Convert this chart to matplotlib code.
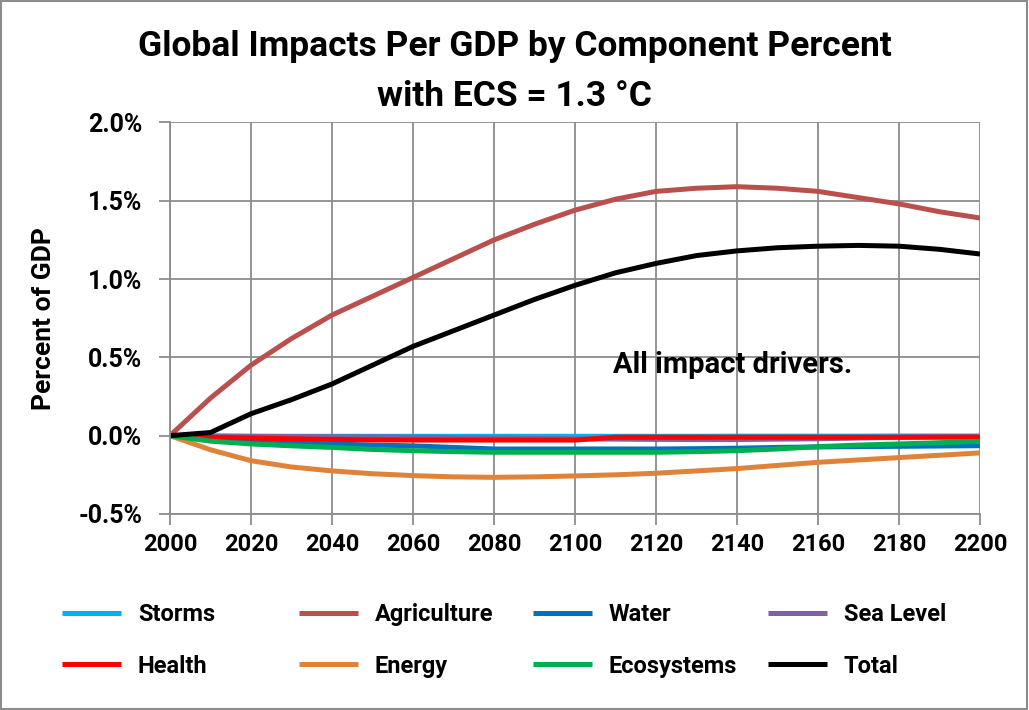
import matplotlib as mpl
mpl.use('Agg')
import matplotlib.pyplot as plt
from matplotlib.patches import Rectangle
from matplotlib.ticker import FuncFormatter

plt.rcParams['font.family'] = ['Roboto', 'DejaVu Sans']
plt.rcParams['font.weight'] = 'bold'

# data (percent of GDP)
years = [2000, 2010, 2020, 2030, 2040, 2050, 2060, 2070, 2080, 2090, 2100,
         2110, 2120, 2130, 2140, 2150, 2160, 2170, 2180, 2190, 2200]
storms = [0, -0.002, -0.003, -0.004, -0.004, -0.004, -0.004, -0.004, -0.004, -0.004, -0.004,
          -0.004, -0.004, -0.004, -0.003, -0.003, -0.003, -0.003, -0.002, -0.002, -0.002]
agriculture = [0, 0.24, 0.45, 0.62, 0.77, 0.89, 1.01, 1.13, 1.25, 1.35, 1.44,
               1.51, 1.56, 1.58, 1.59, 1.58, 1.56, 1.52, 1.48, 1.43, 1.39]
water = [0, -0.02, -0.035, -0.045, -0.053, -0.06, -0.065, -0.075, -0.085, -0.085, -0.085,
         -0.085, -0.085, -0.083, -0.08, -0.075, -0.072, -0.07, -0.068, -0.066, -0.064]
sea_level = [0, -0.003, -0.005, -0.006, -0.007, -0.008, -0.01, -0.012, -0.015, -0.018, -0.02,
             -0.022, -0.024, -0.025, -0.025, -0.022, -0.02, -0.015, -0.01, -0.007, -0.005]
health = [0, -0.01, -0.015, -0.02, -0.024, -0.027, -0.028, -0.028, -0.028, -0.028, -0.028,
          -0.01, -0.01, -0.01, -0.01, -0.01, -0.01, -0.01, -0.01, -0.01, -0.01]
energy = [0, -0.09, -0.16, -0.2, -0.225, -0.243, -0.255, -0.263, -0.266, -0.263, -0.257,
          -0.25, -0.24, -0.225, -0.21, -0.19, -0.17, -0.155, -0.14, -0.125, -0.11]
ecosystems = [0, -0.035, -0.053, -0.065, -0.075, -0.088, -0.096, -0.102, -0.106, -0.106, -0.106,
              -0.106, -0.106, -0.102, -0.096, -0.085, -0.07, -0.06, -0.053, -0.045, -0.036]
total = [0, 0.02, 0.14, 0.23, 0.33, 0.45, 0.57, 0.67, 0.77, 0.87, 0.96,
         1.04, 1.10, 1.15, 1.18, 1.20, 1.21, 1.215, 1.21, 1.19, 1.16]

series = [
    ('Storms', storms, '#00B0F0'),
    ('Agriculture', agriculture, '#B9504D'),
    ('Water', water, '#0070C0'),
    ('Sea Level', sea_level, '#7F63A1'),
    ('Health', health, '#FF0000'),
    ('Energy', energy, '#E0833A'),
    ('Ecosystems', ecosystems, '#00B050'),
    ('Total', total, '#000000'),
]

fig = plt.figure(figsize=(10.29, 7.10), dpi=100)
ax = fig.add_axes([0.1652, 0.2761, 0.7872, 0.5514])

lines = []
for name, vals, col in series:
    ln, = ax.plot(years, vals, color=col, lw=3.6, label=name, solid_capstyle='butt')
    lines.append(ln)

ax.set_xlim(2000, 2200)
ax.set_ylim(-0.5, 2.0)
ax.set_xticks(range(2000, 2201, 20))
ax.set_yticks([-0.5, 0, 0.5, 1.0, 1.5, 2.0])
ax.yaxis.set_major_formatter(FuncFormatter(lambda v, p: '%.1f%%' % v))
ax.grid(True, color='#8c8c8c', lw=1.3)
ax.set_axisbelow(True)
for s in ['top', 'right']:
    ax.spines[s].set_visible(False)
for s in ['left', 'bottom']:
    ax.spines[s].set_color('#8c8c8c')
    ax.spines[s].set_linewidth(1.3)
ax.tick_params(length=8, width=1.3, color='#8c8c8c', labelsize=17, pad=6)
ax.tick_params(axis='y', labelsize=18, pad=12)
for lab in ax.get_xticklabels() + ax.get_yticklabels():
    lab.set_fontweight('bold')

ax.set_ylabel('Percent of GDP', fontsize=19, fontweight='bold', labelpad=16)
ax.text(2139, 0.45, 'All impact drivers.', fontsize=21, fontweight='bold',
        ha='center', va='center')

fig.text(0.5, 0.934, 'Global Impacts Per GDP by Component Percent', fontsize=25.5,
         fontweight='bold', ha='center', va='center')
fig.text(0.5, 0.864, 'with ECS = 1.3 \u00b0C', fontsize=25.5,
         fontweight='bold', ha='center', va='center')

# legend: four fixed-width columns, two rows
col_x = [0.04, 0.27, 0.497, 0.726]
for i, x in enumerate(col_x):
    fig.legend(handles=[lines[i], lines[i + 4]], loc='center left',
               bbox_to_anchor=(x, 0.098), frameon=False, fontsize=17,
               handlelength=2.5, handletextpad=0.7, labelspacing=1.2)

fig.patches.append(Rectangle((0.001, 0.002), 0.997, 0.996, transform=fig.transFigure,
                             fill=False, edgecolor='#8c8c8c', lw=1.5))

fig.savefig('out.png', dpi=100)
